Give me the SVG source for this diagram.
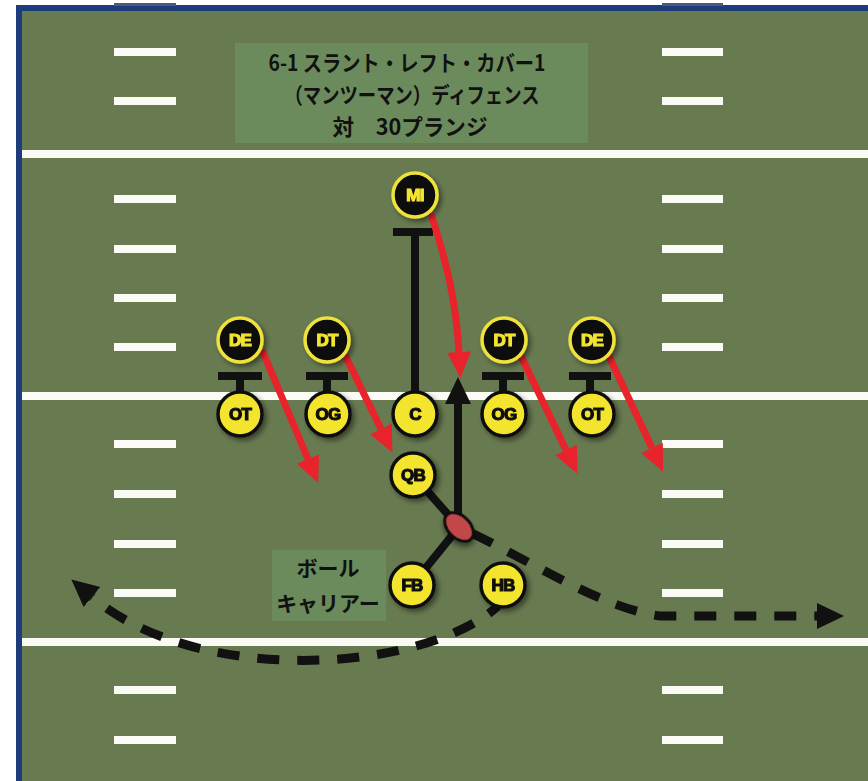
<svg xmlns="http://www.w3.org/2000/svg" width="868" height="781" viewBox="0 0 868 781">
<defs>
<style>
.yl{fill:#fbfbf6}
.hs{fill:#fbfbf6}
.lbl{fill:#6c8b5c}
.jp{font-family:"Noto Sans CJK JP","Noto Sans CJK SC",sans-serif;font-weight:700;fill:#111;text-anchor:middle}
.red{fill:none;stroke:#e8232b;stroke-width:7;stroke-linecap:butt}
.blk{fill:none;stroke:#111;stroke-width:8}
.dash{fill:none;stroke:#111;stroke-width:9;stroke-dasharray:22 18}
.def circle{fill:#0e0e0e;stroke:#efe33a;stroke-width:3.5}
.def text{fill:#f3e52f;stroke:#f3e52f}
.off circle{fill:#f3e52f;stroke:#111;stroke-width:3.5}
.off text{fill:#111;stroke:#111}
.nd text{font-family:"Liberation Sans",Arial,sans-serif;font-weight:700;font-size:17px;stroke-width:1.2;text-anchor:middle;letter-spacing:-0.8px}
</style>
<filter id="sh" x="-40%" y="-40%" width="180%" height="180%">
<feDropShadow dx="3" dy="3" stdDeviation="2.5" flood-color="#000" flood-opacity="0.45"/>
</filter>
<marker id="rh" markerUnits="userSpaceOnUse" markerWidth="30" markerHeight="26" refX="0" refY="12" orient="auto">
<path d="M0,0 L26,12 L0,24 z" fill="#e8232b"/>
</marker>
<marker id="bh" markerUnits="userSpaceOnUse" markerWidth="30" markerHeight="28" refX="0" refY="13" orient="auto">
<path d="M0,0 L27,13 L0,26 z" fill="#111"/>
</marker>
</defs>
<rect x="0" y="0" width="868" height="781" fill="#ffffff"/>
<rect x="16" y="5" width="852" height="776" fill="#1e3c7c"/>
<rect x="114" y="3" width="62" height="3" fill="#4a5a78"/>
<rect x="662" y="3" width="61" height="3" fill="#4a5a78"/>
<rect x="22" y="11" width="846" height="770" fill="#687a50"/>
<g id="field">
<rect class="yl" x="22" y="150" width="846" height="8"/>
<rect class="yl" x="22" y="392" width="846" height="8"/>
<rect class="yl" x="22" y="638" width="846" height="8"/>
<g class="hs">
<rect x="114" y="48" width="62" height="8"/><rect x="662" y="48" width="61" height="8"/>
<rect x="114" y="97" width="62" height="8"/><rect x="662" y="97" width="61" height="8"/>
<rect x="114" y="195" width="62" height="8"/><rect x="662" y="195" width="61" height="8"/>
<rect x="114" y="245" width="62" height="8"/><rect x="662" y="245" width="61" height="8"/>
<rect x="114" y="294" width="62" height="8"/><rect x="662" y="294" width="61" height="8"/>
<rect x="114" y="343" width="62" height="8"/><rect x="662" y="343" width="61" height="8"/>
<rect x="114" y="440" width="62" height="8"/><rect x="662" y="440" width="61" height="8"/>
<rect x="114" y="490" width="62" height="8"/><rect x="662" y="490" width="61" height="8"/>
<rect x="114" y="540" width="62" height="8"/><rect x="662" y="540" width="61" height="8"/>
<rect x="114" y="589" width="62" height="8"/><rect x="662" y="589" width="61" height="8"/>
<rect x="114" y="686" width="62" height="8"/><rect x="662" y="686" width="61" height="8"/>
<rect x="114" y="736" width="62" height="8"/><rect x="662" y="736" width="61" height="8"/>
</g>
</g>
<g id="title">
<rect class="lbl" x="235" y="43" width="353" height="100"/>
<text class="jp" x="407" y="71" font-size="22" textLength="277" lengthAdjust="spacingAndGlyphs">6-1 スラント・レフト・カバー1</text>
<text class="jp" x="412" y="103" font-size="22" textLength="255" lengthAdjust="spacingAndGlyphs">（マンツーマン）ディフェンス</text>
<text class="jp" x="410" y="135" font-size="22" textLength="155" lengthAdjust="spacingAndGlyphs">対　30プランジ</text>
</g>
<g id="ball-carrier-label">
<rect class="lbl" x="272" y="550" width="114" height="71"/>
<text class="jp" x="328" y="576" font-size="21">ボール</text>
<text class="jp" x="328" y="611" font-size="21">キャリアー</text>
</g>
<g id="connectors">
<path class="blk" d="M393 232 H433 M415 232 V395"/>
<path class="blk" d="M218 376 H262 M240 376 V395"/>
<path class="blk" d="M306 376 H348 M327 376 V395"/>
<path class="blk" d="M482 376 H524 M503 376 V395"/>
<path class="blk" d="M569 376 H611 M590 376 V395"/>
<path class="blk" d="M413 475 L459 527 L412 585"/>
<path class="blk" d="M458 527 V404" marker-end="url(#bh)"/>
<path class="dash" d="M459 527 C530 560 600 608 660 616 L817 616" stroke-dashoffset="25" marker-end="url(#bh)"/>
<path class="dash" d="M498 606 C425 672 200 688 92 597" stroke-dashoffset="10" marker-end="url(#bh)"/>
<path class="red" d="M431 214 C446 260 456 300 459 352" marker-end="url(#rh)"/>
<path class="red" d="M262 350 L308 459" marker-end="url(#rh)"/>
<path class="red" d="M345 355 L381 429" marker-end="url(#rh)"/>
<path class="red" d="M520 354 L566 450" marker-end="url(#rh)"/>
<path class="red" d="M607 352 L652 448" marker-end="url(#rh)"/>
</g>
<g id="ball">
<ellipse cx="459" cy="527" rx="17" ry="11" transform="rotate(45 459 527)" fill="#c2464a" stroke="#111" stroke-width="3" filter="url(#sh)"/>
</g>
<g id="MI" class="nd def" filter="url(#sh)"><circle cx="415" cy="195" r="22"/><text x="415" y="201">MI</text></g>
<g id="DE-left" class="nd def" filter="url(#sh)"><circle cx="240" cy="340" r="22"/><text x="240" y="346">DE</text></g>
<g id="DT-left" class="nd def" filter="url(#sh)"><circle cx="327" cy="340" r="22"/><text x="327" y="346">DT</text></g>
<g id="DT-right" class="nd def" filter="url(#sh)"><circle cx="504" cy="340" r="22"/><text x="504" y="346">DT</text></g>
<g id="DE-right" class="nd def" filter="url(#sh)"><circle cx="592" cy="340" r="22"/><text x="592" y="346">DE</text></g>
<g id="OT-left" class="nd off" filter="url(#sh)"><circle cx="240" cy="414" r="22"/><text x="240" y="420">OT</text></g>
<g id="OG-left" class="nd off" filter="url(#sh)"><circle cx="328" cy="414" r="22"/><text x="328" y="420">OG</text></g>
<g id="C" class="nd off" filter="url(#sh)"><circle cx="415" cy="414" r="22"/><text x="415" y="420">C</text></g>
<g id="OG-right" class="nd off" filter="url(#sh)"><circle cx="504" cy="414" r="22"/><text x="504" y="420">OG</text></g>
<g id="OT-right" class="nd off" filter="url(#sh)"><circle cx="592" cy="414" r="22"/><text x="592" y="420">OT</text></g>
<g id="QB" class="nd off" filter="url(#sh)"><circle cx="413" cy="475" r="22"/><text x="413" y="481">QB</text></g>
<g id="FB" class="nd off" filter="url(#sh)"><circle cx="412" cy="585" r="22"/><text x="412" y="591">FB</text></g>
<g id="HB" class="nd off" filter="url(#sh)"><circle cx="503" cy="585" r="22"/><text x="503" y="591">HB</text></g>
</svg>
